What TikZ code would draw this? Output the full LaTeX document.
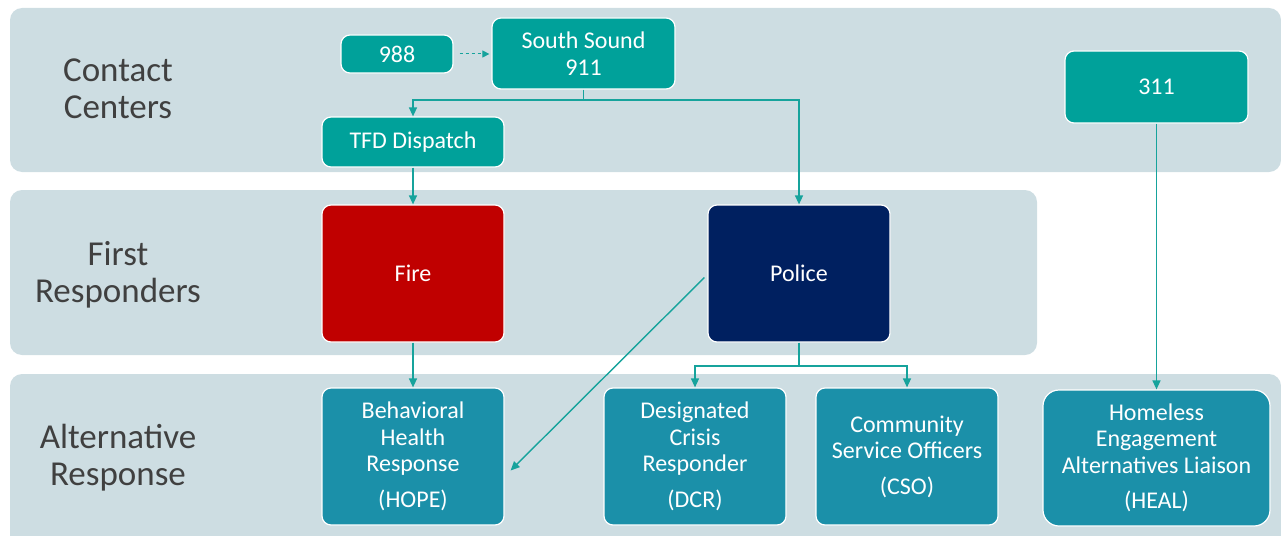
\documentclass[tikz,border=0pt]{standalone}
\usepackage{fontspec}
\setmainfont{Carlito}
\usetikzlibrary{arrows.meta}
\definecolor{band}{HTML}{CDDDE2}
\definecolor{tealbox}{HTML}{00A19A}
\definecolor{bluebox}{HTML}{1B90A9}
\definecolor{firered}{HTML}{C00000}
\definecolor{policeblue}{HTML}{002060}
\definecolor{conn}{HTML}{16A39C}
\definecolor{lbl}{HTML}{404040}
\tikzset{
  bandbox/.style={fill=band, draw=none, rounded corners=12pt},
  bandlabel/.style={text=lbl, font=\fontsize{35}{37}\selectfont, align=center},
  boxbase/.style={draw=white, line width=1.2pt, rounded corners=9pt, text=white,
    font=\fontsize{24}{26.5}\selectfont, align=center, inner sep=0pt},
  tealnode/.style={boxbase, fill=tealbox},
  bluenode/.style={boxbase, fill=bluebox},
  arr/.style={draw=conn, line width=1.4pt, -{Triangle[length=9pt,width=8pt]}},
  plain/.style={draw=conn, line width=1.4pt},
}
\begin{document}
\begin{tikzpicture}[x=1pt,y=-1pt]
\useasboundingbox (0,0) rectangle (1281,535);
\clip (0,0) rectangle (1281,535);
% bands
\fill[bandbox] (10,8) rectangle (1281,172);
\fill[bandbox] (10,190) rectangle (1037,355);
\fill[bandbox] (10,374) rectangle (1281,560);
% band labels
\node[bandlabel] (lcc) at (118,89) {Contact\\Centers};
\node[bandlabel] (lfr) at (118,275) {First\\Responders};
\node[bandlabel] (lar) at (118,458) {Alternative\\Response};
% nodes
\node[tealnode, minimum width=112pt, minimum height=38pt] (n988) at (397,54) {988};
\node[tealnode, minimum width=183pt, minimum height=71pt] (n911) at (583.5,53.5) {South Sound\\911};
\node[tealnode, minimum width=182pt, minimum height=50pt] (tfd) at (413,142) {TFD Dispatch};
\node[tealnode, minimum width=183pt, minimum height=72pt] (n311) at (1156.5,87) {311};
\node[boxbase, fill=firered, minimum width=182pt, minimum height=137pt] (fire) at (413,273.5) {Fire};
\node[boxbase, fill=policeblue, minimum width=182pt, minimum height=137pt] (police) at (799,273.5) {Police};
\node[bluenode, minimum width=182pt, minimum height=137pt] (hope) at (413,456.5) {Behavioral\\Health\\Response\\[9pt](HOPE)};
\node[bluenode, minimum width=182pt, minimum height=137pt] (dcr) at (695,456.5) {Designated\\Crisis\\Responder\\[9pt](DCR)};
\node[bluenode, minimum width=182pt, minimum height=137pt] (cso) at (907,456.5) {Community\\Service Officers\\[9pt](CSO)};
\node[bluenode, minimum width=227pt, minimum height=136pt, rounded corners=16pt] (heal) at (1156.5,458) {Homeless\\Engagement\\Alternatives Liaison\\[9pt](HEAL)};
% connectors
\draw[draw=conn, line width=1pt, dashed, dash pattern=on 3pt off 3pt, -{Triangle[length=7pt,width=7pt]}, shorten <=6pt, shorten >=2pt] (n988.east) -- (n911.west |- n988.east);
\coordinate (split911) at (583.5,100);
\draw[plain] (n911.south) -- (split911);
\draw[arr] (split911) -| (tfd.north);
\draw[arr] (split911) -| (police.north);
\draw[arr] (tfd.south) -- (fire.north);
\draw[arr] (fire.south) -- (hope.north);
\draw[arr] ([xshift=-3pt,yshift=-4pt]police.west) -- ([xshift=6pt,yshift=-14pt]hope.east);
\coordinate (splitpol) at (799,366);
\draw[plain] (police.south) -- (splitpol);
\draw[arr] (splitpol) -| (dcr.north);
\draw[arr] (splitpol) -| (cso.north);
\draw[arr] (n311.south) -- (heal.north);
\end{tikzpicture}
\end{document}
